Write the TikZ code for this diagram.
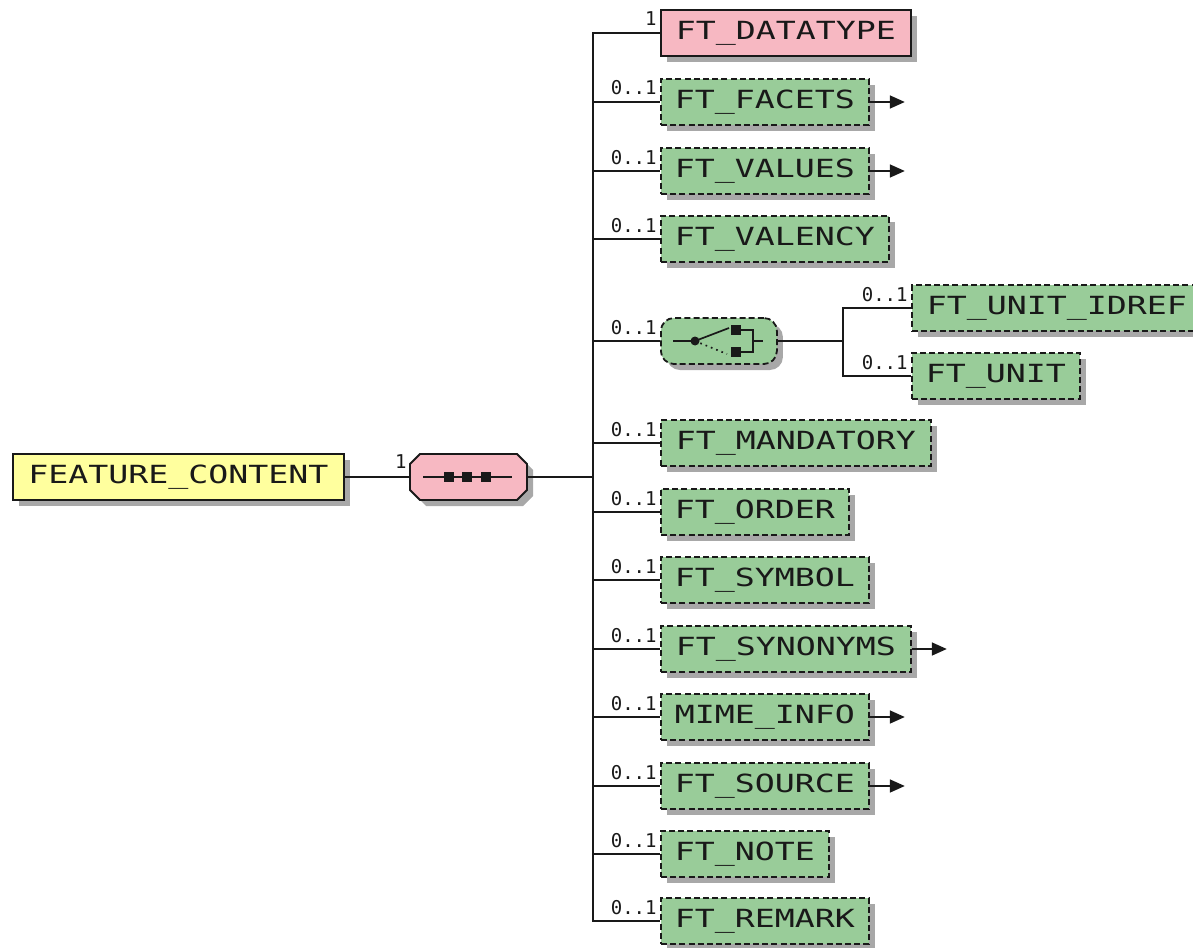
\documentclass[tikz,border=0pt]{standalone}
\usepackage{fontspec}
\usetikzlibrary{arrows.meta,shadows}
\newfontfamily\boxfont[FakeStretch=1.33]{DejaVu Sans Mono}
\newfontfamily\labfont{DejaVu Sans Mono}
\definecolor{elgreen}{RGB}{153,204,153}
\definecolor{elpink}{RGB}{247,184,194}
\definecolor{elyellow}{RGB}{255,255,158}
\definecolor{shadowgray}{RGB}{168,168,168}
\definecolor{ink}{RGB}{25,25,25}
\begin{document}
\begin{tikzpicture}[x=0.5pt,y=-0.5pt,
  base/.style={font=\boxfont\fontsize{12.5pt}{14pt}\selectfont, minimum height=23pt,
    inner sep=0pt, text=ink, line width=0.9pt, draw=ink, anchor=west,
    drop shadow={shadow xshift=3pt,shadow yshift=-3pt,fill=shadowgray,opacity=1}},
  reqpink/.style={base, fill=elpink},
  reqyellow/.style={base, fill=elyellow},
  opt/.style={base, fill=elgreen, dash pattern=on 3pt off 1.6pt},
  conn/.style={line width=0.85pt, draw=ink},
  more/.style={conn, -{Triangle[length=7.5pt,width=6.5pt]}},
  lab/.style={font=\labfont\fontsize{9.5pt}{11pt}\selectfont, anchor=base east, inner sep=0pt, text=ink},
  invis/.style={minimum height=23pt, inner sep=0pt, draw=none}
]
\useasboundingbox (0,0) rectangle (1193,947);

% root element
\node[reqyellow, minimum width=165.5pt] (fc) at (12,477) {FEATURE\_CONTENT};

% sequence compositor
\fill[fill=shadowgray, xshift=3pt, yshift=-3pt] (420,454) -- (517,454) -- (527,464) -- (527,490) -- (517,500) -- (420,500) -- (410,490) -- (410,464) -- cycle;
\filldraw[fill=elpink, draw=ink, line width=0.9pt] (420,454) -- (517,454) -- (527,464) -- (527,490) -- (517,500) -- (420,500) -- (410,490) -- (410,464) -- cycle;
\node[invis, minimum width=58.5pt] (seq) at (468.5,477) {};
\draw[conn] (423,477) -- (512,477);
\foreach \sx in {449,467,486} \fill[ink] (\sx-5,472) rectangle (\sx+5,482);
\node[lab] (lseq) at (407,468) {1};

\draw[conn] (fc.east) -- (seq.west);
\coordinate (trunk) at (593,477);
\draw[conn] (seq.east) -- (trunk);

% children
\node[reqpink, minimum width=125pt] (dt) at (660,33) {FT\_DATATYPE};
\node[opt, minimum width=104pt] (facets) at (660,102) {FT\_FACETS};
\node[opt, minimum width=104pt] (values) at (660,171) {FT\_VALUES};
\node[opt, minimum width=114pt] (valency) at (660,239) {FT\_VALENCY};
\node[opt, minimum width=58pt, rounded corners=6.5pt] (ch) at (660,341) {};
\node[opt, minimum width=145pt] (idref) at (911,308) {FT\_UNIT\_IDREF};
\node[opt, minimum width=84pt] (unit) at (911,376) {FT\_UNIT};
\node[opt, minimum width=135pt] (mand) at (660,443) {FT\_MANDATORY};
\node[opt, minimum width=94pt] (order) at (660,512) {FT\_ORDER};
\node[opt, minimum width=104pt] (symbol) at (660,580) {FT\_SYMBOL};
\node[opt, minimum width=125pt] (syn) at (660,649) {FT\_SYNONYMS};
\node[opt, minimum width=104pt] (mime) at (660,717) {MIME\_INFO};
\node[opt, minimum width=104pt] (source) at (660,786) {FT\_SOURCE};
\node[opt, minimum width=84pt] (note) at (660,854) {FT\_NOTE};
\node[opt, minimum width=104pt] (remark) at (660,921) {FT\_REMARK};

% trunk connectors
\foreach \n in {dt,facets,values,valency,ch,mand,order,symbol,syn,mime,source,note,remark}
  \draw[conn] (trunk) |- (\n.west);

% occurrence labels
\node[lab] (ldt) at (657,26) {1};
\node[lab] (lfacets) at (657,95) {0..1};
\node[lab] (lvalues) at (657,164) {0..1};
\node[lab] (lvalency) at (657,232) {0..1};
\node[lab] (lch) at (657,334) {0..1};
\node[lab] (lidref) at (908,301) {0..1};
\node[lab] (lunit) at (908,369) {0..1};
\node[lab] (lmand) at (657,436) {0..1};
\node[lab] (lorder) at (657,505) {0..1};
\node[lab] (lsymbol) at (657,573) {0..1};
\node[lab] (lsyn) at (657,642) {0..1};
\node[lab] (lmime) at (657,710) {0..1};
\node[lab] (lsource) at (657,779) {0..1};
\node[lab] (lnote) at (657,847) {0..1};
\node[lab] (lremark) at (657,914) {0..1};

% choice symbol
\draw[conn] (673,341) -- (695,341);
\fill[ink] (695,341) circle (4.5);
\draw[conn] (695,341) -- (729,328);
\draw[conn, dotted] (695,341) -- (727,354);
\fill[ink] (731,325) rectangle (741,335);
\fill[ink] (731,347) rectangle (741,357);
\draw[conn] (740,330) -- (753,330) -- (753,352) -- (740,352);
\draw[conn] (753,341) -- (763,341);

% choice branches
\coordinate (cj) at (843,341);
\draw[conn] (ch.east) -- (cj);
\draw[conn] (cj) |- (idref.west);
\draw[conn] (cj) |- (unit.west);

% expand arrows
\coordinate (afacets) at ([xshift=17.5pt]facets.east);
\coordinate (avalues) at ([xshift=17.5pt]values.east);
\coordinate (asyn) at ([xshift=17.5pt]syn.east);
\coordinate (amime) at ([xshift=17.5pt]mime.east);
\coordinate (asource) at ([xshift=17.5pt]source.east);
\draw[more] (facets.east) -- (afacets);
\draw[more] (values.east) -- (avalues);
\draw[more] (syn.east) -- (asyn);
\draw[more] (mime.east) -- (amime);
\draw[more] (source.east) -- (asource);
\end{tikzpicture}
\end{document}
